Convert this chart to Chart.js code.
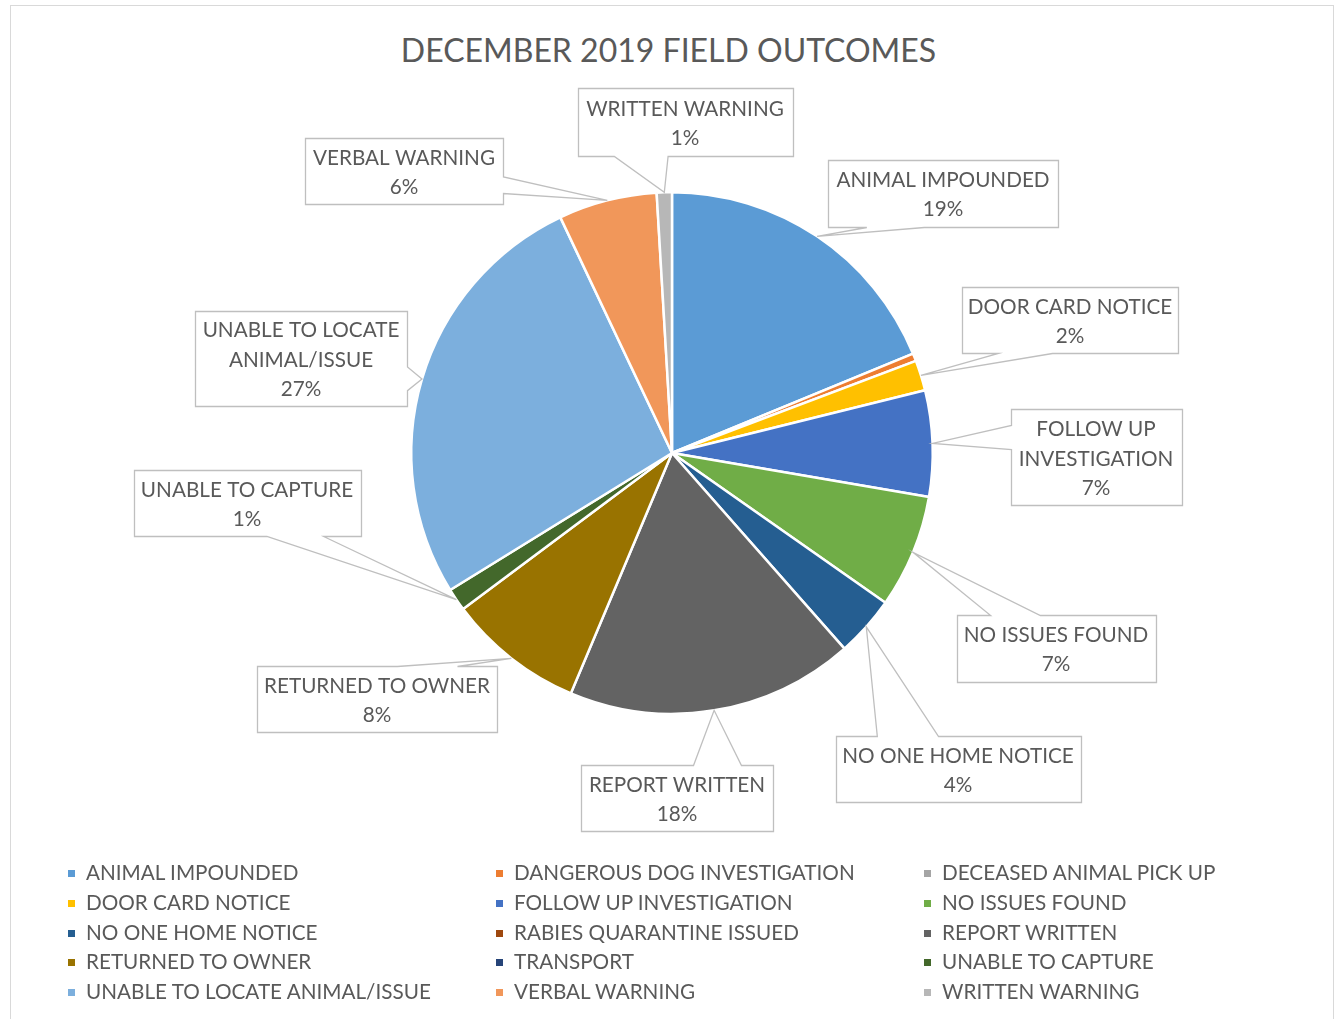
<!DOCTYPE html>
<html>
<head>
<meta charset="utf-8">
<script src="https://cdn.jsdelivr.net/npm/chart.js@4/dist/chart.umd.min.js"></script>
<style>
  html, body { margin: 0; padding: 0; background: #fff; }
  body { width: 1337px; height: 1019px; position: relative; overflow: hidden; font-family: Lato, "Open Sans", sans-serif; color: #595959; }
  #frame { position: absolute; left: 10px; top: 5px; width: 1322px; height: 1040px; border: 1px solid #d9d9d9; }
  #title { position: absolute; left: 0; width: 1337px; top: 29px; text-align: center; font-size: 32px; line-height: 42px; }
  #chart { position: absolute; left: 0; top: 0; }
  #legend { position: absolute; left: 0; top: 0; }
  .item { position: absolute; font-size: 20.7px; line-height: 24px; white-space: nowrap; }
  .item i { display: inline-block; width: 7px; height: 7px; margin-right: 11px; vertical-align: 3px; }
</style>
</head>
<body>
<div id="frame"></div>
<div id="title">DECEMBER 2019 FIELD OUTCOMES</div>
<canvas id="chart" width="1337" height="1019"></canvas>
<div id="legend"></div>
<script>
const categories = [
  'ANIMAL IMPOUNDED', 'DANGEROUS DOG INVESTIGATION', 'DECEASED ANIMAL PICK UP',
  'DOOR CARD NOTICE', 'FOLLOW UP INVESTIGATION', 'NO ISSUES FOUND',
  'NO ONE HOME NOTICE', 'RABIES QUARANTINE ISSUED', 'REPORT WRITTEN',
  'RETURNED TO OWNER', 'TRANSPORT', 'UNABLE TO CAPTURE',
  'UNABLE TO LOCATE ANIMAL/ISSUE', 'VERBAL WARNING', 'WRITTEN WARNING'
]
const counts = [40, 1, 0, 4, 14, 15, 8, 0, 38, 18, 0, 3, 57, 13, 2]
const colors = [
  '#5B9BD5', '#ED7D31', '#A5A5A5', '#FFC000', '#4472C4', '#70AD47',
  '#255E91', '#9E480E', '#636363', '#997300', '#264478', '#43682B',
  '#7CAFDD', '#F1975A', '#B7B7B7'
]

// callout boxes: offset of the box centre from the pie centre, box width and height
const callouts = {
  0:  { dx: 271,  dy: -260, w: 230, h: 67 },
  3:  { dx: 398,  dy: -133, w: 216, h: 66 },
  4:  { dx: 424,  dy: 4,    w: 171, h: 96 },
  5:  { dx: 384,  dy: 195,  w: 199, h: 67 },
  6:  { dx: 286,  dy: 316,  w: 245, h: 66 },
  8:  { dx: 5,    dy: 345,  w: 192, h: 66 },
  9:  { dx: -295, dy: 246,  w: 240, h: 66 },
  11: { dx: -425, dy: 50,   w: 227, h: 66 },
  12: { dx: -371, dy: -95,  w: 212, h: 95 },
  13: { dx: -268, dy: -282, w: 198, h: 66 },
  14: { dx: 13,   dy: -331, w: 215, h: 68 }
}

const total = counts.reduce((a, b) => a + b, 0)
const labelFont = '20.7px Lato, "Open Sans", sans-serif'

function wrap(ctx, text, maxW) {
  const words = text.split(' ')
  const lines = []
  let cur = ''
  words.forEach(w => {
    const t = cur ? cur + ' ' + w : w
    if (cur && ctx.measureText(t).width > maxW) {
      lines.push(cur)
      cur = w
    } else {
      cur = t
    }
  })
  if (cur) lines.push(cur)
  return lines
}

// rectangle callout with a wedge pointing at (tx, ty), same rule as office wedgeRectCallout
function calloutPath(ctx, l, t, w, h, tx, ty) {
  const r = l + w, b = t + h
  const hc = l + w / 2, vc = t + h / 2
  const dxPos = tx - hc, dyPos = ty - vc
  const dx = dxPos * h / w
  const x1 = l + w * (dxPos > 0 ? 7 : 2) / 12
  const x2 = l + w * (dxPos > 0 ? 10 : 5) / 12
  const y1 = t + h * (dyPos > 0 ? 7 : 2) / 12
  const y2 = t + h * (dyPos > 0 ? 10 : 5) / 12
  const inside = tx >= l && tx <= r && ty >= t && ty <= b
  const vert = Math.abs(dyPos) > Math.abs(dx)
  ctx.beginPath()
  ctx.moveTo(l, t)
  if (!inside && vert && dyPos < 0) {
    ctx.lineTo(x1, t); ctx.lineTo(tx, ty); ctx.lineTo(x2, t)
  }
  ctx.lineTo(r, t)
  if (!inside && !vert && dxPos > 0) {
    ctx.lineTo(r, y1); ctx.lineTo(tx, ty); ctx.lineTo(r, y2)
  }
  ctx.lineTo(r, b)
  if (!inside && vert && dyPos > 0) {
    ctx.lineTo(x2, b); ctx.lineTo(tx, ty); ctx.lineTo(x1, b)
  }
  ctx.lineTo(l, b)
  if (!inside && !vert && dxPos < 0) {
    ctx.lineTo(l, y2); ctx.lineTo(tx, ty); ctx.lineTo(l, y1)
  }
  ctx.closePath()
}

const calloutPlugin = {
  id: 'callouts',
  afterDatasetsDraw(chart) {
    const ctx = chart.ctx
    const arcs = chart.getDatasetMeta(0).data
    ctx.save()
    ctx.font = labelFont
    arcs.forEach((arc, i) => {
      const c = callouts[i]
      if (!c || !counts[i]) return
      const p = arc.getProps(['x', 'y', 'startAngle', 'endAngle', 'outerRadius'], true)
      const mid = (p.startAngle + p.endAngle) / 2
      const tx = p.x + Math.cos(mid) * p.outerRadius
      const ty = p.y + Math.sin(mid) * p.outerRadius
      const l = Math.round(p.x + c.dx - c.w / 2) + 0.5
      const t = Math.round(p.y + c.dy - c.h / 2) + 0.5
      calloutPath(ctx, l, t, c.w, c.h, tx, ty)
      ctx.fillStyle = '#fff'
      ctx.fill()
      ctx.strokeStyle = '#bfbfbf'
      ctx.lineWidth = 1.3
      ctx.stroke()
      const lines = wrap(ctx, categories[i], c.w - 6)
      lines.push(Math.round(counts[i] / total * 100) + '%')
      const lh = 29.5
      const y0 = p.y + c.dy + 2 - (lines.length - 1) * lh / 2
      ctx.fillStyle = '#595959'
      ctx.textAlign = 'center'
      ctx.textBaseline = 'middle'
      lines.forEach((s, k) => ctx.fillText(s, p.x + c.dx, y0 + k * lh))
    })
    ctx.restore()
  }
}

new Chart(document.getElementById('chart'), {
  type: 'pie',
  data: {
    labels: categories,
    datasets: [{
      data: counts,
      backgroundColor: colors,
      borderColor: '#ffffff',
      borderWidth: 2.5
    }]
  },
  options: {
    responsive: false,
    animation: false,
    layout: { padding: { left: 410, top: 191, right: 403, bottom: 304 } },
    plugins: {
      legend: { display: false },
      tooltip: { enabled: false }
    }
  },
  plugins: [calloutPlugin]
})

// legend in three columns, Excel style
const legend = document.getElementById('legend')
categories.forEach((name, i) => {
  const el = document.createElement('div')
  el.className = 'item'
  el.style.left = (68 + (i % 3) * 428) + 'px'
  el.style.top = (860 + Math.floor(i / 3) * 29.75) + 'px'
  el.innerHTML = '<i style="background:' + colors[i] + '"></i>' + name
  legend.appendChild(el)
})
</script>
</body>
</html>
